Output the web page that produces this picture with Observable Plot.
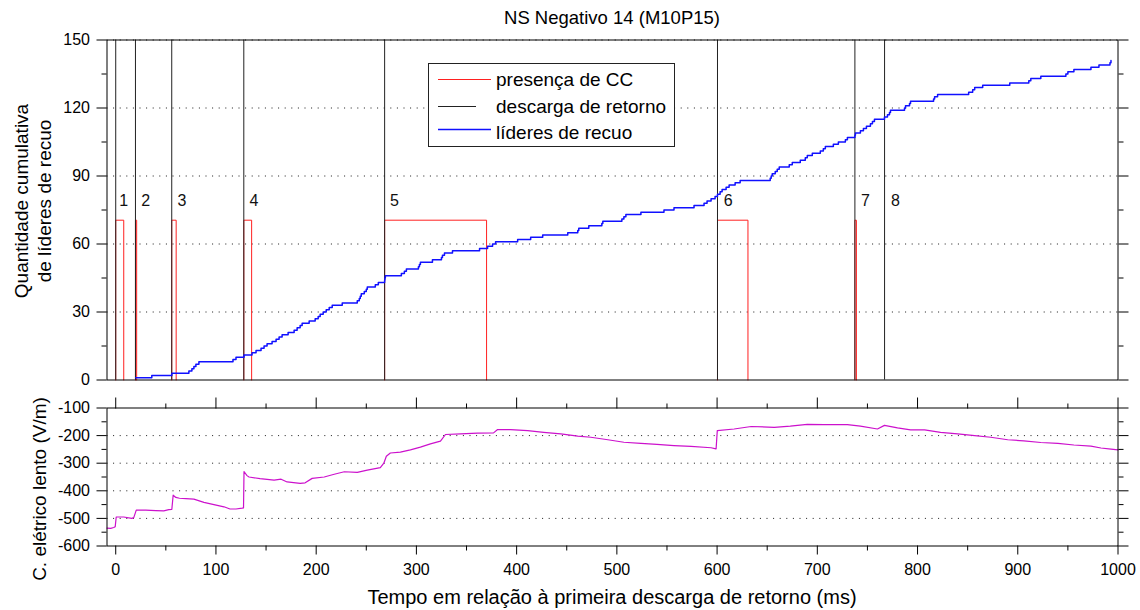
<!DOCTYPE html>
<html><head><meta charset="utf-8">
<script src="https://cdn.jsdelivr.net/npm/d3@7"></script>
<script src="https://cdn.jsdelivr.net/npm/@observablehq/plot@0.6"></script>
<style>
body{margin:0;background:#fff;}
#wrap{position:relative;width:1140px;height:610px;font-family:"Liberation Sans",Arial,sans-serif;}
#top,#bot{position:absolute;left:0;}
#top{top:0}
#bot{top:395px}
#ov{position:absolute;left:0;top:0;pointer-events:none}
</style></head><body>
<div id="wrap"><div id="top"></div><div id="bot"></div>
<svg id="ov" width="1140" height="610" font-family="'Liberation Sans', Arial, sans-serif">
  <text x="612" y="24" text-anchor="middle" font-size="18.5">NS Negativo 14 (M10P15)</text>
  <text transform="translate(21,201) rotate(-90)" text-anchor="middle" dominant-baseline="central" font-size="19">Quantidade cumulativa</text>
  <text transform="translate(44,201) rotate(-90)" text-anchor="middle" dominant-baseline="central" font-size="19">de líderes de recuo</text>
  <text transform="translate(39,489) rotate(-90)" text-anchor="middle" dominant-baseline="central" font-size="19">C. elétrico lento (V/m)</text>
  <text x="612" y="597" text-anchor="middle" dominant-baseline="central" font-size="20">Tempo em relação à primeira descarga de retorno (ms)</text>
  <g id="legend">
    <rect x="428.5" y="63.5" width="246" height="83" fill="#fff" stroke="#222" stroke-width="1"/>
    <line x1="438" x2="491" y1="79.5" y2="79.5" stroke="#ff2020" stroke-width="1"/>
    <line x1="438" x2="476" y1="106.5" y2="106.5" stroke="#222" stroke-width="1"/>
    <line x1="438" x2="491" y1="129.5" y2="129.5" stroke="#1010ff" stroke-width="1.5"/>
    <text x="496" y="86" font-size="19">presença de CC</text>
    <text x="496" y="113" font-size="19">descarga de retorno</text>
    <text x="496" y="139" font-size="19">líderes de recuo</text>
  </g>
</svg></div>
<script>
// Return strokes (ms)
const strokeTimes = [0, 19.7, 55.9, 127.8, 268.3, 600.4, 737.5, 767.1];
const strokeNames = ["1","2","3","4","5","6","7","8"];
const strokeLabelTimes = [8, 30, 66, 138, 278, 611, 748, 778];
const strokeLabelLevel = 79;
// Continuing current intervals (ms)
const ccStart = [0, 19.7, 55.9, 127.8, 268.3, 600.4, 737.5];
const ccEnd   = [8.0, 20.9, 60.3, 135.6, 370.0, 630.8, 739.0];
const ccLevel = 70.5;
// Cumulative recoil leaders
const leaderTimes = [20,36,56,73,76,78,80,83,117,120,128,136,140,145,148,151,156,160,163,166,172,178,181,184,186,193,199,202,204,207,210,213,216,226,241,243,244,245,248,250,251,259,262,268.3,268.6,269,285,288,290,302,303,304,316,325,326,328,336,363,371,376,379,401,414,426,451,461,462,472,485,486,505,507,509,524,547,557,577,587,590,594,598,600.4,603,605,609,612,618,623,653,654,655,658,660,662,672,675,683,688,690,695,703,706,708,716,721,728,730,737.5,738,743,746,749,753,755,757,767,770,772,773,787,788,792,793,816,817,820,851,855,857,865,892,911,913,923,948,950,956,973,981,992,993];
const leaderCounts = [1,2,3,4,5,6,7,8,9,10,11,12,13,14,15,16,17,18,19,20,21,22,23,24,25,26,27,28,29,30,31,32,33,34,35,36,37,38,39,40,41,42,43,44,45,46,47,48,49,50,51,52,53,54,55,56,57,58,59,60,61,62,63,64,65,66,67,68,69,70,71,72,73,74,75,76,77,78,79,80,81,82,83,84,85,86,87,88,89,90,91,92,93,94,95,96,97,98,99,100,101,102,103,104,105,106,107,108,109,110,111,112,113,114,115,116,117,118,119,120,121,122,123,124,125,126,127,128,129,130,131,132,133,134,135,136,137,138,139,140,141];
// Slow electric field (V/m)
const fieldTimes = [-8.7,-5,-2,-0.5,0.5,8,16,18,20.5,30,40,48,53,56,57.3,60,63.6,70,78,88,98,108,114,120,126,127.5,128,131,133,144,158,165,171,184,189,196,208,218,228,241,251,264,267.5,270,274,284,294,304,314,324,329,344,361,377,381,394,411,427,444,461,474,491,507,524,540,557,574,594,599,600.2,617,634,657,673,690,707,730,743,760,767,780,793,807,823,840,857,873,890,906,923,940,956,973,983,993,1000];
const fieldValues = [-535,-536,-533,-530,-495,-495,-500,-497,-470,-470,-472,-473,-468,-467,-416,-424,-427,-428,-430,-442,-450,-458,-466,-466,-463,-462,-330,-345,-350,-356,-361,-358,-368,-373,-371,-355,-350,-340,-331,-333,-325,-316,-300,-275,-263,-260,-252,-242,-230,-220,-196,-194,-191,-190,-178,-178,-182,-188,-194,-202,-206,-215,-224,-228,-232,-236,-239,-244,-248,-182,-176,-167,-170,-166,-159,-160,-160,-166,-176,-163,-172,-179,-179,-188,-194,-200,-206,-215,-219,-225,-228,-234,-238,-245,-249,-252];
// Axis ticks
const topMajor = [0,30,60,90,120,150];
const topMinor = [15,45,75,105,135];
const botMajor = [-600,-500,-400,-300,-200,-100];
const botMinor = [-550,-450,-350,-250,-150];
const xMajor = [0,100,200,300,400,500,600,700,800,900,1000];
const xMinor = [50,150,250,350,450,550,650,750,850,950];

const xDomain = [-8.7, 1000];
const FONT = '"Liberation Sans", Arial, sans-serif';

const cc = ccStart.flatMap((s, i) => [
  {t: s, v: 0, id: i}, {t: s, v: ccLevel, id: i}, {t: ccEnd[i], v: ccLevel, id: i}, {t: ccEnd[i], v: 0, id: i}
]);
const leaders = leaderTimes.map((t, i) => ({t, n: leaderCounts[i]}));
const labels = strokeNames.map((s, i) => ({t: strokeLabelTimes[i], s}));
const field = fieldTimes.map((t, i) => ({t, v: fieldValues[i]}));
const blank = () => "";

const topPlot = Plot.plot({
  width: 1140, height: 395,
  marginLeft: 106.5, marginRight: 22.5, marginTop: 39.5, marginBottom: 15.5,
  style: {fontFamily: FONT, fontSize: "16px", color: "#000", background: "transparent", overflow: "visible"},
  x: {domain: xDomain, axis: null},
  y: {domain: [0, 150], axis: null},
  marks: [
    Plot.gridY([30, 60, 90, 120, 150], {stroke: "#000", strokeOpacity: 0.9, strokeDasharray: "1,5.6"}),
    Plot.line(cc, {x: "t", y: "v", z: "id", stroke: "#ff2020", strokeWidth: 1}),
    Plot.ruleX(strokeTimes, {stroke: "#222", strokeWidth: 1}),
    Plot.line(leaders, {x: "t", y: "n", curve: "step-after", stroke: "#1010ff", strokeWidth: 1.5}),
    Plot.text(labels, {x: "t", y: () => strokeLabelLevel, text: "s", fontSize: 16, fill: "#111"}),
    Plot.axisY({ticks: topMajor, anchor: "left", tickSize: 10, tickPadding: 7, label: null, tickFormat: d => String(d)}),
    Plot.axisY({ticks: topMinor, anchor: "left", tickSize: 5, label: null, tickFormat: blank}),
    Plot.axisY({ticks: topMajor, anchor: "right", tickSize: 10, label: null, tickFormat: blank}),
    Plot.axisY({ticks: topMinor, anchor: "right", tickSize: 5, label: null, tickFormat: blank}),
    Plot.frame({stroke: "#000"})
  ]
});
document.getElementById("top").appendChild(topPlot);

const botPlot = Plot.plot({
  width: 1140, height: 215,
  marginLeft: 106.5, marginRight: 22.5, marginTop: 12.5, marginBottom: 64.5,
  style: {fontFamily: FONT, fontSize: "16px", color: "#000", background: "transparent", overflow: "visible"},
  x: {domain: xDomain, axis: null},
  y: {domain: [-600, -100], axis: null},
  marks: [
    Plot.gridY([-500, -400, -300, -200], {stroke: "#000", strokeOpacity: 0.9, strokeDasharray: "1,5.6"}),
    Plot.line(field, {x: "t", y: "v", stroke: "#cc11cc", strokeWidth: 1.2}),
    Plot.axisY({ticks: botMajor, anchor: "left", tickSize: 10, tickPadding: 7, label: null, tickFormat: d => String(d)}),
    Plot.axisY({ticks: botMinor, anchor: "left", tickSize: 5, label: null, tickFormat: blank}),
    Plot.axisY({ticks: botMajor, anchor: "right", tickSize: 10, label: null, tickFormat: blank}),
    Plot.axisY({ticks: botMinor, anchor: "right", tickSize: 5, label: null, tickFormat: blank}),
    Plot.axisX({ticks: xMajor, anchor: "bottom", tickSize: 9, tickPadding: 9, label: null, tickFormat: d => String(d)}),
    Plot.axisX({ticks: xMinor, anchor: "bottom", tickSize: 5, label: null, tickFormat: blank}),
    Plot.axisX({ticks: xMajor, anchor: "top", tickSize: 11, label: null, tickFormat: blank}),
    Plot.axisX({ticks: xMinor, anchor: "top", tickSize: 5, label: null, tickFormat: blank}),
    Plot.frame({stroke: "#000"})
  ]
});
document.getElementById("bot").appendChild(botPlot);
</script>
</body></html>
